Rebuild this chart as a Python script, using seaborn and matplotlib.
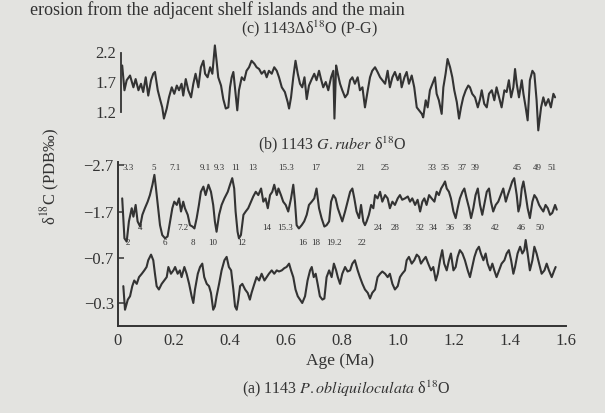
import matplotlib
matplotlib.use("Agg")
import matplotlib.pyplot as plt
import numpy as np
import pandas as pd
import seaborn as sns

# ---------------- data ----------------
# (c) 1143 delta d18O (P-G)
c_age = [0.015,0.023,0.031,0.043,0.055,0.063,0.073,0.082,0.090,0.099,
         0.108,0.118,0.126,0.132,0.142,0.150,0.158,0.164,0.174,0.182,
         0.192,0.201,0.210,0.218,0.227,0.233,0.242,0.251,0.261,0.269,
         0.277,0.287,0.296,0.305,0.311,0.320,0.329,0.337,0.346,0.352,
         0.358,0.368,0.376,0.385,0.394,0.400,0.406,0.412,0.420,0.426,
         0.432,0.442,0.451,0.459,0.468,0.477,0.487,0.495,0.504,0.513,
         0.523,0.531,0.539,0.549,0.558,0.567,0.575,0.585,0.596,0.606,
         0.611,0.618,0.626,0.634,0.642,0.650,0.658,0.666,0.674,0.682,
         0.692,0.701,0.709,0.718,0.725,0.733,0.742,0.751,0.761,0.769,
         0.773,0.779,0.785,0.793,0.801,0.811,0.820,0.829,0.837,0.846,
         0.856,0.864,0.873,0.882,0.892,0.900,0.908,0.918,0.927,0.936,
         0.944,0.954,0.963,0.971,0.980,0.989,0.999,1.007,1.013,1.023,
         1.031,1.039,1.049,1.058,1.067,1.075,1.085,1.090,1.099,1.106,
         1.114,1.123,1.132,1.138,1.146,1.156,1.162,1.170,1.177,1.186,
         1.194,1.201,1.210,1.218,1.225,1.233,1.242,1.251,1.257,1.265,
         1.275,1.285,1.293,1.299,1.308,1.317,1.325,1.335,1.344,1.352,
         1.361,1.370,1.380,1.388,1.396,1.404,1.412,1.418,1.424,1.432,
         1.442,1.448,1.456,1.463,1.471,1.480,1.487,1.495,1.501,1.511,
         1.519,1.527,1.537,1.546,1.555,1.561]
c_val = [1.98,1.56,1.73,1.81,1.61,1.75,1.56,1.67,1.53,1.78,
         1.47,1.73,1.84,1.87,1.56,1.41,1.27,1.08,1.25,1.44,
         1.61,1.50,1.64,1.56,1.67,1.47,1.75,1.56,1.44,1.67,
         1.84,1.61,1.95,2.06,1.84,1.78,1.95,1.84,2.32,2.06,
         1.78,1.64,1.41,1.25,1.27,1.61,1.78,1.87,1.50,1.22,
         1.56,1.78,1.73,1.89,1.95,2.06,2.01,1.95,1.92,1.84,
         1.89,1.78,1.89,1.84,1.95,1.89,1.78,1.61,1.53,1.36,
         1.25,1.44,1.78,2.06,1.84,1.67,1.61,1.78,1.41,1.64,
         1.75,1.84,1.73,1.89,1.75,1.61,1.70,1.56,1.78,1.89,
         1.08,1.98,1.84,1.67,1.56,1.44,1.50,1.73,1.78,1.67,
         1.78,1.56,1.61,1.27,1.56,1.78,1.89,1.95,1.87,1.78,
         1.73,1.67,1.89,1.61,1.78,1.87,1.73,1.84,1.61,1.78,
         1.87,1.67,1.81,1.61,1.27,1.22,1.16,1.10,1.39,1.27,
         1.56,1.67,1.78,1.50,1.39,1.16,1.61,1.84,2.09,1.95,
         1.78,1.56,1.36,1.08,1.27,1.44,1.56,1.64,1.61,1.50,
         1.44,1.27,1.41,1.56,1.33,1.27,1.50,1.56,1.39,1.61,
         1.44,1.27,1.56,1.53,1.73,1.44,1.61,1.92,1.67,1.44,
         1.73,1.50,1.27,1.05,1.73,1.89,1.84,1.39,0.88,1.27,
         1.44,1.30,1.41,1.27,1.50,1.44]

# (b) 1143 G.ruber d18O
b_age = [0.015,0.023,0.031,0.039,0.049,0.055,0.063,0.070,0.079,0.087,
         0.096,0.106,0.114,0.123,0.130,0.135,0.142,0.150,0.158,0.168,
         0.177,0.186,0.194,0.201,0.210,0.218,0.225,0.233,0.239,0.249,
         0.257,0.266,0.273,0.281,0.289,0.296,0.305,0.313,0.323,0.332,
         0.340,0.346,0.352,0.361,0.370,0.380,0.392,0.400,0.408,0.415,
         0.420,0.427,0.432,0.439,0.448,0.456,0.465,0.475,0.483,0.492,
         0.501,0.511,0.519,0.527,0.535,0.543,0.551,0.558,0.567,0.573,
         0.582,0.590,0.599,0.608,0.618,0.626,0.632,0.638,0.646,0.656,
         0.665,0.674,0.682,0.692,0.701,0.709,0.718,0.727,0.737,0.745,
         0.754,0.761,0.769,0.777,0.785,0.793,0.801,0.811,0.820,0.829,
         0.837,0.844,0.852,0.861,0.868,0.876,0.882,0.888,0.896,0.904,
         0.912,0.918,0.927,0.936,0.944,0.954,0.963,0.971,0.980,0.989,
         0.999,1.007,1.015,1.025,1.035,1.043,1.051,1.061,1.070,1.079,
         1.087,1.094,1.102,1.111,1.120,1.130,1.138,1.146,1.154,1.162,
         1.168,1.174,1.182,1.189,1.198,1.206,1.213,1.221,1.230,1.237,
         1.245,1.254,1.261,1.269,1.277,1.285,1.293,1.301,1.308,1.317,
         1.325,1.332,1.340,1.349,1.358,1.367,1.376,1.385,1.392,1.400,
         1.408,1.415,1.424,1.430,1.436,1.442,1.448,1.456,1.463,1.471,
         1.480,1.487,1.495,1.504,1.511,1.519,1.527,1.535,1.543,1.551,
         1.561,1.567]
b_val = [-1.99,-1.14,-1.07,-1.50,-1.78,-1.60,-1.85,-1.50,-1.39,-1.64,
         -1.78,-1.92,-2.06,-2.28,-2.49,-2.24,-1.85,-1.42,-1.21,-1.14,
         -1.18,-1.50,-1.78,-1.92,-1.85,-1.99,-1.71,-1.92,-1.78,-1.64,
         -1.42,-1.39,-1.35,-1.57,-1.85,-2.13,-2.24,-2.06,-2.28,-2.13,
         -1.85,-1.50,-1.28,-1.64,-1.85,-1.99,-2.13,-2.28,-2.42,-2.20,
         -1.71,-1.28,-1.14,-1.21,-1.64,-1.71,-1.78,-1.92,-2.03,-2.13,
         -2.06,-2.20,-1.92,-1.99,-1.78,-2.06,-2.13,-2.28,-2.06,-2.20,
         -2.06,-1.92,-1.85,-1.71,-1.99,-2.28,-1.92,-1.42,-1.35,-1.42,
         -1.50,-1.64,-1.85,-1.92,-1.99,-2.20,-1.78,-1.57,-1.39,-1.42,
         -1.50,-1.92,-2.06,-1.99,-1.78,-1.64,-1.50,-1.71,-1.92,-2.13,
         -2.20,-1.99,-1.71,-1.57,-1.85,-1.50,-1.42,-1.50,-1.64,-1.85,
         -1.78,-2.06,-1.99,-2.13,-1.92,-2.06,-1.99,-1.78,-1.92,-1.85,
         -1.99,-2.06,-1.96,-1.99,-2.03,-1.92,-1.99,-1.85,-1.96,-1.71,
         -1.92,-1.99,-1.85,-2.06,-1.99,-1.92,-2.13,-2.06,-2.20,-2.28,
         -2.35,-2.20,-2.13,-1.99,-1.71,-1.57,-1.78,-1.99,-2.13,-2.20,
         -1.99,-1.78,-1.57,-1.78,-2.06,-2.20,-1.85,-1.64,-1.85,-2.13,
         -2.20,-1.92,-1.71,-1.85,-1.92,-2.06,-2.20,-1.92,-2.06,-2.20,
         -2.35,-2.42,-2.06,-1.71,-1.85,-2.20,-2.35,-2.06,-1.78,-1.57,
         -1.92,-2.06,-1.99,-1.85,-1.78,-1.71,-1.85,-1.78,-1.64,-1.68,
         -1.85,-1.75]

# (a) 1143 P.obliquiloculata d18O
a_age = [0.019,0.025,0.035,0.043,0.051,0.058,0.067,0.075,0.085,0.094,
         0.102,0.108,0.118,0.126,0.132,0.138,0.146,0.156,0.165,0.174,
         0.180,0.189,0.198,0.204,0.213,0.221,0.227,0.237,0.245,0.254,
         0.263,0.269,0.275,0.285,0.293,0.301,0.308,0.317,0.325,0.332,
         0.340,0.346,0.352,0.361,0.370,0.380,0.388,0.396,0.404,0.412,
         0.418,0.424,0.430,0.436,0.444,0.454,0.463,0.471,0.477,0.487,
         0.495,0.504,0.513,0.523,0.531,0.539,0.549,0.558,0.567,0.575,
         0.585,0.594,0.602,0.611,0.618,0.626,0.634,0.642,0.650,0.658,
         0.668,0.677,0.686,0.692,0.699,0.706,0.713,0.721,0.730,0.737,
         0.745,0.754,0.763,0.771,0.779,0.785,0.793,0.801,0.811,0.820,
         0.829,0.837,0.846,0.856,0.864,0.873,0.882,0.892,0.900,0.908,
         0.918,0.927,0.936,0.944,0.954,0.963,0.971,0.980,0.989,0.999,
         1.007,1.015,1.025,1.031,1.039,1.049,1.058,1.067,1.075,1.082,
         1.090,1.099,1.108,1.118,1.126,1.135,1.142,1.150,1.158,1.165,
         1.174,1.182,1.189,1.198,1.206,1.213,1.221,1.230,1.239,1.249,
         1.257,1.265,1.273,1.281,1.289,1.296,1.305,1.313,1.320,1.329,
         1.337,1.344,1.352,1.361,1.370,1.380,1.388,1.396,1.404,1.412,
         1.418,1.427,1.436,1.444,1.451,1.456,1.463,1.471,1.480,1.487,
         1.495,1.504,1.513,1.523,1.531,1.539,1.549,1.558,1.563]
a_val = [-0.45,-0.24,-0.33,-0.36,-0.45,-0.50,-0.47,-0.53,-0.56,-0.59,
         -0.62,-0.68,-0.73,-0.68,-0.56,-0.45,-0.42,-0.47,-0.50,-0.53,
         -0.62,-0.56,-0.59,-0.62,-0.56,-0.59,-0.53,-0.62,-0.56,-0.47,
         -0.36,-0.30,-0.42,-0.56,-0.62,-0.65,-0.53,-0.47,-0.45,-0.39,
         -0.24,-0.27,-0.36,-0.47,-0.59,-0.68,-0.71,-0.62,-0.59,-0.42,
         -0.27,-0.24,-0.33,-0.45,-0.47,-0.42,-0.39,-0.33,-0.39,-0.47,
         -0.53,-0.50,-0.56,-0.50,-0.53,-0.56,-0.59,-0.56,-0.59,-0.58,
         -0.59,-0.61,-0.62,-0.65,-0.59,-0.53,-0.42,-0.36,-0.33,-0.30,
         -0.36,-0.50,-0.59,-0.62,-0.53,-0.56,-0.47,-0.36,-0.33,-0.34,
         -0.53,-0.59,-0.53,-0.65,-0.59,-0.53,-0.47,-0.56,-0.62,-0.58,
         -0.59,-0.65,-0.68,-0.59,-0.53,-0.47,-0.42,-0.39,-0.34,-0.39,
         -0.42,-0.53,-0.56,-0.58,-0.56,-0.53,-0.56,-0.47,-0.42,-0.45,
         -0.53,-0.56,-0.59,-0.68,-0.71,-0.65,-0.68,-0.73,-0.71,-0.65,
         -0.68,-0.71,-0.65,-0.59,-0.62,-0.50,-0.56,-0.68,-0.77,-0.65,
         -0.59,-0.68,-0.74,-0.59,-0.62,-0.71,-0.77,-0.74,-0.68,-0.59,
         -0.53,-0.62,-0.71,-0.77,-0.80,-0.74,-0.68,-0.74,-0.65,-0.59,
         -0.65,-0.59,-0.53,-0.59,-0.65,-0.68,-0.74,-0.77,-0.68,-0.56,
         -0.62,-0.74,-0.80,-0.74,-0.77,-0.86,-0.74,-0.59,-0.68,-0.80,
         -0.74,-0.65,-0.56,-0.59,-0.65,-0.59,-0.53,-0.59,-0.62]

# marine isotope stage labels on curve (b)
top_stage_labels = ["3.3","5","7.1","9.1","9.3","11","13","15.3","17","21","25",
                    "33","35","37","39","45","49","51"]
top_stage_ages = [0.036,0.129,0.204,0.311,0.361,0.418,0.482,0.600,0.707,0.868,0.954,
                  1.121,1.168,1.229,1.275,1.425,1.496,1.550]
low_stage_labels = ["2","6","8","10","12","16","18","19.2","22"]
low_stage_ages = [0.036,0.168,0.268,0.339,0.443,0.661,0.707,0.771,0.871]
mid_stage_labels = ["4","7.2","14","15.3","24","28","32","34","36","38","42","46","50"]
mid_stage_ages = [0.079,0.232,0.532,0.596,0.929,0.989,1.079,1.125,1.186,1.246,
                  1.346,1.439,1.507]

x_ticks = [0, 0.2, 0.4, 0.6, 0.8, 1.0, 1.2, 1.4, 1.6]
x_tick_labels = ["0", "0.2", "0.4", "0.6", "0.8", "1.0", "1.2", "1.4", "1.6"]
c_ticks = [2.2, 1.7, 1.2]
b_ticks = [-2.7, -1.7]
a_ticks = [-0.7, -0.3]

# ---------------- style ----------------
BG = "#e3e3e0"
INK = "#333333"
sns.set_theme(style="white")
plt.rcParams["font.family"] = ["Liberation Serif", "DejaVu Serif"]
plt.rcParams["mathtext.fontset"] = "stix"
plt.rcParams["text.color"] = INK
plt.rcParams["xtick.color"] = INK
plt.rcParams["ytick.color"] = INK
plt.rcParams["axes.edgecolor"] = INK

W, H = 605, 413
fig = plt.figure(figsize=(W / 100, H / 100), dpi=100, facecolor=BG)

def fx(px):
    return px / W

def fy(py):
    return 1 - py / H

LW = 1.5

# lower axes (b and a)
ax = fig.add_axes([fx(118), fy(326), fx(566) - fx(118), fy(162) - fy(326)])
ax.set_facecolor("none")
ax.set_xlim(0, 1.6)
ax.set_ylim(-2.7 + (326 - 165) / 47, -2.7 + (162 - 165) / 47)
sns.lineplot(x=b_age, y=b_val, ax=ax, color=INK, lw=LW, sort=False, estimator=None)
for s in ["top", "right"]:
    ax.spines[s].set_visible(False)
for s in ["left", "bottom"]:
    ax.spines[s].set_linewidth(1.4)
ax.set_xticks(x_ticks)
ax.set_xticklabels(x_tick_labels)
ax.set_yticks(b_ticks)
ax.set_yticklabels(["\u22122.7", "\u22121.7"])
ax.tick_params(axis="both", direction="in", length=4, width=1.1, labelsize=12, pad=3)
ax.tick_params(axis="x", pad=5)
ax.set_xlabel("")
ax.set_ylabel("")

ax_a = ax.twinx()
ax_a.set_facecolor("none")
ax_a.set_ylim(-0.7 + (326 - 258) / 112.5, -0.7 + (162 - 258) / 112.5)
sns.lineplot(x=a_age, y=a_val, ax=ax_a, color=INK, lw=LW, sort=False, estimator=None)
for s in ax_a.spines.values():
    s.set_visible(False)
ax_a.yaxis.set_ticks_position("left")
ax_a.set_yticks(a_ticks)
ax_a.set_yticklabels(["\u22120.7", "\u22120.3"])
ax_a.tick_params(axis="y", direction="in", length=4, width=1.1, labelsize=12, pad=3)
ax_a.set_ylabel("")

for lab, age in zip(top_stage_labels, top_stage_ages):
    ax.text(age, -2.64, lab, fontsize=6.5, ha="center", va="center")
for lab, age in zip(low_stage_labels, low_stage_ages):
    ax.text(age, -1.04, lab, fontsize=6.5, ha="center", va="center")
for lab, age in zip(mid_stage_labels, mid_stage_ages):
    ax.text(age, -1.35, lab, fontsize=6.5, ha="center", va="center")

# top axes (c)
ax_c = fig.add_axes([fx(118), fy(135), fx(566) - fx(118), fy(40) - fy(135)])
ax_c.set_facecolor("none")
ax_c.set_xlim(0, 1.6)
ax_c.set_ylim(2.2 - (135 - 52.5) / 59, 2.2 + (52.5 - 40) / 59)
sns.lineplot(x=c_age, y=c_val, ax=ax_c, color=INK, lw=LW, sort=False, estimator=None)
for s in ["top", "right", "bottom"]:
    ax_c.spines[s].set_visible(False)
ax_c.spines["left"].set_bounds(1.2, 2.2)
ax_c.spines["left"].set_position(("data", 0.009))
ax_c.spines["left"].set_linewidth(1.3)
ax_c.set_xticks([])
ax_c.set_yticks(c_ticks)
ax_c.set_yticklabels(["2.2", "1.7", "1.2"])
ax_c.tick_params(axis="y", direction="in", length=4, width=1.1, labelsize=12, pad=3)
ax_c.set_xlabel("")
ax_c.set_ylabel("")

# texts
fig.text(fx(30), fy(1), "erosion from the adjacent shelf islands and the main",
         fontsize=13, ha="left", va="top")
fig.text(fx(310), fy(29), "(c) 1143\u0394\u03b4$^{18}$O (P-G)", fontsize=11.5,
         ha="center", va="center")
fig.text(fx(332), fy(145), "(b) 1143 $\\it{G.ruber}$ \u03b4$^{18}$O", fontsize=11.5,
         ha="center", va="center")
fig.text(fx(50), fy(176), "\u03b4$^{18}$C (PDB\u2030)", fontsize=12, rotation=90,
         ha="center", va="center")
fig.text(fx(340), fy(361), "Age (Ma)", fontsize=12.5, ha="center", va="center")
fig.text(fx(346), fy(389), "(a) 1143 $\\it{P.obliquiloculata}$ \u03b4$^{18}$O",
         fontsize=11.5, ha="center", va="center")

fig.savefig("out.png", dpi=100, facecolor=BG)
